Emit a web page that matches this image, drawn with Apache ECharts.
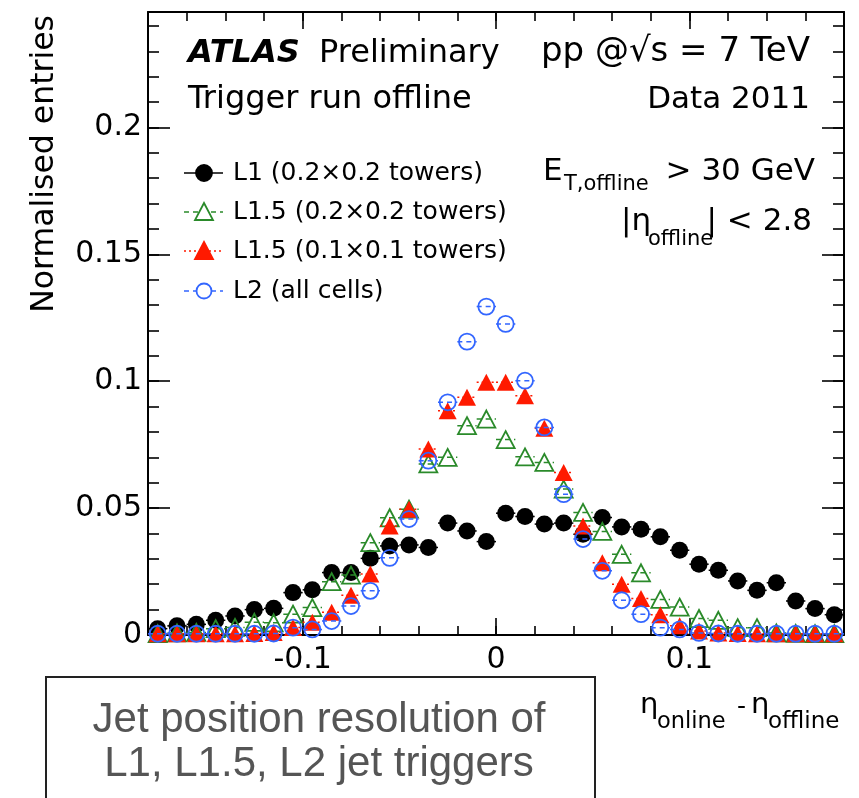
<!DOCTYPE html>
<html><head><meta charset="utf-8">
<script src="https://cdn.jsdelivr.net/npm/echarts@6/dist/echarts.min.js"></script>
<style>html,body{margin:0;padding:0;background:#fff}#c{width:859px;height:798px}</style>
</head><body><div id="c"></div>
<script>
// ---- data ----
const binCenters = [-0.175,-0.165,-0.155,-0.145,-0.135,-0.125,-0.115,-0.105,-0.095,-0.085,-0.075,-0.065,-0.055,-0.045,-0.035,-0.025,-0.015,-0.005,
  0.005,0.015,0.025,0.035,0.045,0.055,0.065,0.075,0.085,0.095,0.105,0.115,0.125,0.135,0.145,0.155,0.165,0.175];
const l1 = [0.0025,0.0036,0.0042,0.0058,0.0075,0.0100,0.0105,0.0167,0.0178,0.0246,0.0246,0.0302,0.0351,0.0355,0.0345,0.0441,0.0410,0.0368,
  0.0480,0.0467,0.0437,0.0441,0.0397,0.0463,0.0426,0.0417,0.0387,0.0334,0.0279,0.0255,0.0213,0.0176,0.0206,0.0134,0.0104,0.0080];
const l15coarse = [0.0005,0.0008,0.0010,0.0025,0.0030,0.0050,0.0048,0.0082,0.0108,0.0210,0.0236,0.0364,0.0462,0.0496,0.0674,0.0700,0.0825,0.0851,
  0.0770,0.0702,0.0680,0.0575,0.0483,0.0408,0.0318,0.0245,0.0140,0.0110,0.0065,0.0058,0.0029,0.0029,0.0008,0.0006,0.0005,0.0005];
const l15fine = [0.0005,0.0005,0.0005,0.0005,0.0005,0.0006,0.0010,0.0030,0.0050,0.0090,0.0157,0.0240,0.0430,0.0496,0.0733,0.0884,0.0937,0.0996,
  0.0996,0.0943,0.0815,0.0640,0.0430,0.0285,0.0200,0.0144,0.0080,0.0036,0.0016,0.0008,0.0006,0.0005,0.0005,0.0005,0.0005,0.0005];
const l2 = [0.0005,0.0005,0.0005,0.0005,0.0005,0.0005,0.0006,0.0029,0.0022,0.0055,0.0114,0.0174,0.0304,0.0457,0.0687,0.0917,0.1156,0.1294,
  0.1226,0.1002,0.0818,0.0555,0.0378,0.0253,0.0137,0.0082,0.0029,0.0022,0.0008,0.0006,0.0005,0.0005,0.0005,0.0005,0.0005,0.0005];
const xMajorTicks = [-0.1, 0, 0.1];
const xMinorTicks = [-0.18,-0.16,-0.14,-0.12,-0.1,-0.08,-0.06,-0.04,-0.02,0,0.02,0.04,0.06,0.08,0.1,0.12,0.14,0.16,0.18];
const yMajorTicks = [0, 0.05, 0.1, 0.15, 0.2];
const yMinorTicks = [0,0.01,0.02,0.03,0.04,0.05,0.06,0.07,0.08,0.09,0.1,0.11,0.12,0.13,0.14,0.15,0.16,0.17,0.18,0.19,0.2,0.21,0.22,0.23,0.24];
const seriesNames = ['L1 (0.2×0.2 towers)','L1.5 (0.2×0.2 towers)','L1.5 (0.1×0.1 towers)','L2 (all cells)'];

// ---- styles ----
const FONT = 'DejaVu Sans';
const X_MIN = -0.18, X_MAX = 0.18, Y_MIN = 0, Y_MAX = 0.2455;
const HALF_BIN = 0.005;
const colors = ['#000000', '#2a8a2a', '#ff1a00', '#3366ff'];
const dashes = ['solid', [5,4], [2,3], [5,4]];

function pairs(vals){ return binCenters.map((x,i)=>[x, vals[i]]); }
const allVals = [l1, l15coarse, l15fine, l2];

function xAx(pos, ticks, len, showLine, showLabel){
  return {type:'value', position:pos, min:X_MIN, max:X_MAX, gridIndex:0,
    axisLine:{show:showLine, onZero:false, lineStyle:{color:'#000', width:2}},
    axisTick:{show:true, inside:true, length:len, customValues:ticks, lineStyle:{color:'#000', width:1.6}},
    axisLabel:{show:showLabel, customValues:ticks, fontFamily:FONT, fontSize:30, color:'#000', margin:10},
    splitLine:{show:false}};
}
function yAx(pos, ticks, len, showLine, showLabel){
  return {type:'value', position:pos, min:Y_MIN, max:Y_MAX, gridIndex:0,
    axisLine:{show:showLine, onZero:false, lineStyle:{color:'#000', width:2}},
    axisTick:{show:true, inside:true, length:len, customValues:ticks, lineStyle:{color:'#000', width:1.6}},
    axisLabel:{show:showLabel, customValues:ticks, fontFamily:FONT, fontSize:30, color:'#000', margin:6,
      formatter:v=>String(v)},
    splitLine:{show:false}};
}

const series = [];
allVals.forEach((vals, k)=>{
  series.push({type:'custom', name:seriesNames[k]+' err', xAxisIndex:0, yAxisIndex:0, z:2+k*2, silent:true,
    data: pairs(vals),
    renderItem:(params, api)=>{
      const a = api.coord([api.value(0)-HALF_BIN, api.value(1)]);
      const b = api.coord([api.value(0)+HALF_BIN, api.value(1)]);
      return {type:'line', shape:{x1:a[0], y1:a[1], x2:b[0], y2:b[1]},
        style:{stroke:colors[k], lineWidth:1.5, lineDash: dashes[k]==='solid'?null:dashes[k]}};
    }});
});
const symbols = ['circle','triangle','triangle','circle'];
const sizes = [17,[18,17],[18,17],16];
const filled = [true,false,true,false];
allVals.forEach((vals,k)=>{
  series.push({type:'scatter', name:seriesNames[k], xAxisIndex:0, yAxisIndex:0, z:3+k*2,
    symbol:symbols[k], symbolSize:sizes[k], data:pairs(vals), silent:true,
    itemStyle: filled[k] ? {color:colors[k], opacity:1} : {color:'rgba(0,0,0,0)', borderColor:colors[k], borderWidth:1.8, opacity:1}});
});

// ---- legend & texts (graphic) ----
const legendY = [173, 212, 251, 291];
const legendGraphics = [];
seriesNames.forEach((n,k)=>{
  legendGraphics.push({type:'line', shape:{x1:184, y1:legendY[k], x2:223, y2:legendY[k]},
    style:{stroke:colors[k], lineWidth:1.6, lineDash: dashes[k]==='solid'?null:dashes[k]}, z:10});
  let sym;
  if (symbols[k]==='circle') sym = {type:'circle', shape:{cx:204, cy:legendY[k], r: filled[k]?8:7.5}, style:{fill: filled[k]?colors[k]:'#fff', stroke:colors[k], lineWidth:1.8}, z:11};
  else sym = {type:'polygon', shape:{points:[[204,legendY[k]-9],[213,legendY[k]+8],[195,legendY[k]+8]]}, style:{fill: filled[k]?colors[k]:'#fff', stroke:colors[k], lineWidth:1.8}, z:11};
  legendGraphics.push(sym);
  legendGraphics.push({type:'text', x:233, y:legendY[k], style:{text:n, font:'25px "'+FONT+'"', fill:'#000', textVerticalAlign:'middle'}, z:11});
});

function txt(x,y,t,size,opts){
  return Object.assign({type:'text', x:x, y:y, z:12, style:Object.assign({text:t, font:size+'px "'+FONT+'"', fill:'#000', textVerticalAlign:'middle', textAlign:'left'}, (opts&&opts.style)||{})});
}

const texts = [
  {type:'text', x:188, y:54, z:12, style:{text:'ATLAS', font:'italic bold 32px "'+FONT+'"', fill:'#000', textVerticalAlign:'middle'}},
  txt(319,54,'Preliminary',32),
  txt(188,100,'Trigger run offline',32),
  txt(810,52,'pp @√s = 7 TeV',34,{style:{textAlign:'right'}}),
  txt(810,100,'Data 2011',31,{style:{textAlign:'right'}}),
  txt(543,172,'E',31),
  txt(564,185,'T,offline',21),
  txt(815,172,'> 30 GeV',31,{style:{textAlign:'right'}}),
  txt(621,222,'|η',31),
  txt(648,240,'offline',21),
  txt(812,222,'| < 2.8',31,{style:{textAlign:'right'}}),
  {type:'text', x:45, y:15, rotation:Math.PI/2, z:12, style:{text:'Normalised entries', font:'31.5px "'+FONT+'"', fill:'#000', textAlign:'right', textVerticalAlign:'middle'}},
  txt(640,705,'η',29),
  txt(657,722,'online',22.5),
  txt(737,707,'-',25),
  txt(751,705,'η',29),
  txt(768,722,'offline',23),
  {type:'rect', shape:{x:46, y:677, width:549, height:130}, style:{fill:'#fff', stroke:'#222', lineWidth:2}, z:12},
  {type:'text', x:319, y:720, z:13, style:{text:'Jet position resolution of', font:'300 42px "Liberation Sans"', fill:'#555', textAlign:'center', textVerticalAlign:'middle'}},
  {type:'text', x:319, y:764, z:13, style:{text:'L1, L1.5, L2 jet triggers', font:'300 42px "Liberation Sans"', fill:'#555', textAlign:'center', textVerticalAlign:'middle'}}
];

const chart = echarts.init(document.getElementById('c'), null, {renderer:'canvas'});
chart.setOption({
  animation:false,
  backgroundColor:'#fff',
  grid:{left:148, top:12, width:696, height:623, show:false},
  xAxis:[xAx('bottom', xMajorTicks, 17, true, true), xAx('bottom', xMinorTicks, 9, false, false),
         xAx('top', xMajorTicks, 17, true, false), xAx('top', xMinorTicks, 9, false, false)],
  yAxis:[yAx('left', yMajorTicks, 22, true, true), yAx('left', yMinorTicks, 11, false, false),
         yAx('right', yMajorTicks, 22, true, false), yAx('right', yMinorTicks, 11, false, false)],
  series: series,
  graphic: legendGraphics.concat(texts)
});
</script></body></html>
